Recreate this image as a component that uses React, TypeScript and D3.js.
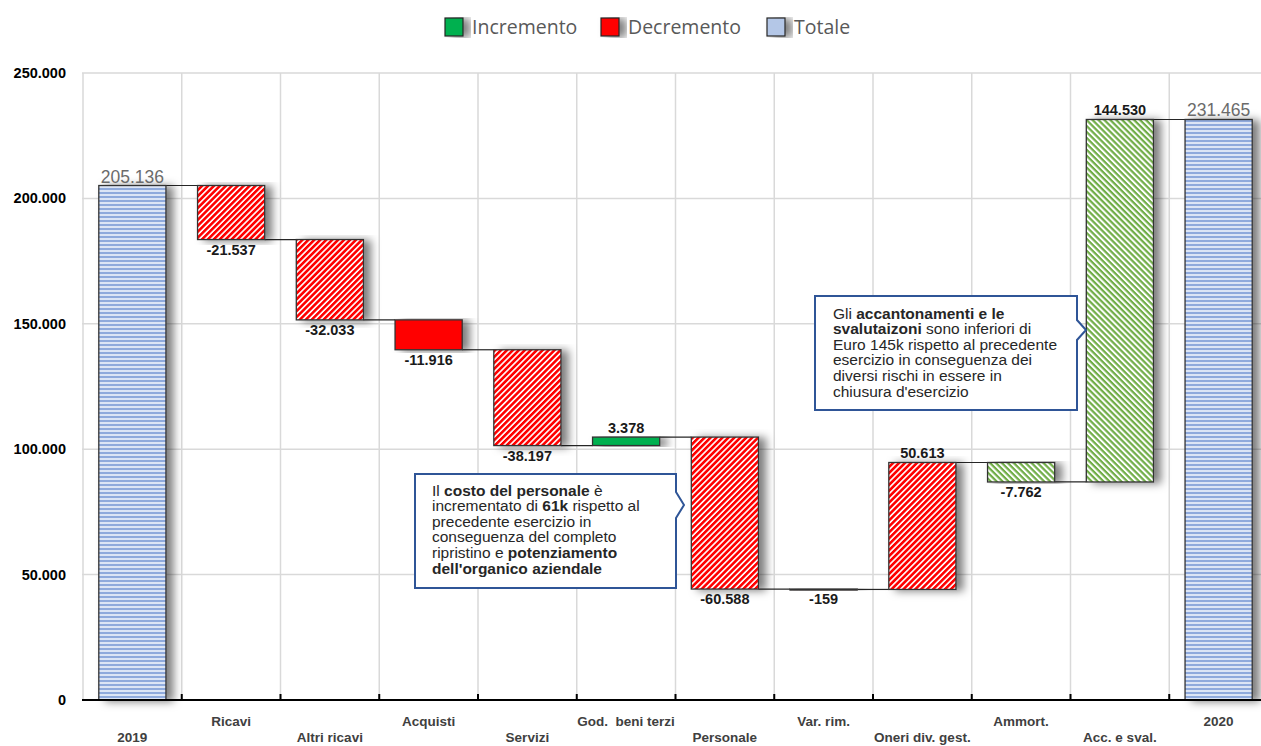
import React from "react";
import * as d3 from "d3";

const categories = [
  "2019", "Ricavi", "Altri ricavi", "Acquisti", "Servizi", "God.  beni terzi",
  "Personale", "Var. rim.", "Oneri div. gest.", "Ammort.", "Acc. e sval.", "2020",
];
// totals for 2019/2020, deltas otherwise
const values = [205136, -21537, -32033, -11916, -38197, 3378, -60588, -159, 50613, -7762, 144530, 231465];
const isTotal = [true, false, false, false, false, false, false, false, false, false, false, true];
const barKind = ["total", "decH", "decH", "dec", "decH", "inc", "decH", "decH", "decH", "incH", "incH", "total"];
const yTicks = [0, 50000, 100000, 150000, 200000, 250000];
const legendItems = ["Incremento", "Decremento", "Totale"];

const W = 1261, H = 746;
const locale = d3.formatLocale({ decimal: ",", thousands: ".", grouping: [3], currency: ["€", ""], minus: "-" });
const fmt = (v: number) => locale.format(",d")(v).replace("\u2212", "-");

const fills: Record<string, string> = {
  total: "url(#pTot)", decH: "url(#pRed)", dec: "#ff0000", inc: "#00b050", incH: "url(#pGreen)",
};

export default function App() {
  const x = d3.scaleBand<string>().domain(categories).range([83, 1268]).padding(0);
  const y = d3.scaleLinear().domain([0, 250000]).range([700, 73]);
  const bw = x.bandwidth();
  const barW = bw * 0.68;
  const inset = (bw - barW) / 2;

  let running = 0;
  const bars = categories.map((c, i) => {
    let start: number, end: number;
    if (isTotal[i]) {
      start = 0; end = values[i]; running = values[i];
    } else {
      start = running; end = running + values[i]; running = end;
    }
    const lo = Math.min(start, end), hi = Math.max(start, end);
    return { c, i, start, end, lo, hi, x0: (x(c) as number) + inset };
  });

  const font = "'Liberation Sans', Arial, sans-serif";

  return (
    <svg width={W} height={H} style={{ display: "block", position: "absolute", left: 0, top: 0, background: "#fff" }}>
      <defs>
        <pattern id="pTot" width="6" height="4" patternUnits="userSpaceOnUse">
          <rect width="6" height="4" fill="#dce5f5" />
          <rect y="0" width="6" height="2" fill="#8faadc" />
        </pattern>
        <pattern id="pRed" width="4.2" height="4.2" patternUnits="userSpaceOnUse" patternTransform="rotate(-45)">
          <rect width="4.2" height="4.2" fill="#fff" />
          <rect width="4.2" height="2.6" fill="#ff0000" />
        </pattern>
        <pattern id="pGreen" width="4.2" height="4.2" patternUnits="userSpaceOnUse" patternTransform="rotate(45)">
          <rect width="4.2" height="4.2" fill="#fff" />
          <rect width="4.2" height="2.2" fill="#70ad47" />
        </pattern>
        <filter id="shadow" x="-20%" y="-5%" width="160%" height="115%">
          <feDropShadow dx="7" dy="1" stdDeviation="4" floodColor="#000" floodOpacity="0.5" />
        </filter>
      </defs>

      {/* legend */}
      {legendItems.map((t, k) => {
        const lx = [445, 601, 767][k];
        const col = ["#00b050", "#ff0000", "#b4c7e7"][k];
        return (
          <g key={t}>
            <rect x={lx} y={18} width={18} height={18} fill={col} stroke="#262626" strokeWidth={1.2} filter="url(#shadow)" />
            <text x={lx + 27} y={33.5} fontFamily="'Open Sans', sans-serif" fontSize={19.5} fill="#595959">{t}</text>
          </g>
        );
      })}

      {/* gridlines */}
      {yTicks.map((t) => (
        <line key={"h" + t} x1={82} x2={1261} y1={y(t)} y2={y(t)} stroke="#d9d9d9" strokeWidth={1.5} />
      ))}
      {categories.map((c) => (
        <line key={"v" + c} x1={x(c)} x2={x(c)} y1={73} y2={700} stroke="#d9d9d9" strokeWidth={1.5} />
      ))}

      {/* y labels */}
      {yTicks.map((t) => (
        <text key={"yl" + t} x={66} y={y(t) + 5} textAnchor="end" fontFamily={font} fontWeight="bold" fontSize={14.5} fill="#000">
          {fmt(t)}
        </text>
      ))}

      {/* connectors */}
      {bars.slice(0, -1).map((b, i) => (
        <line key={"cn" + i} x1={b.x0 + barW} x2={bars[i + 1].x0} y1={y(b.end)} y2={y(b.end)} stroke="#262626" strokeWidth={1.2} />
      ))}

      {/* bars */}
      {bars.map((b) => (
        <rect key={"b" + b.c} x={b.x0} y={y(b.hi)} width={barW} height={Math.max(1, y(b.lo) - y(b.hi))}
          fill={fills[barKind[b.i]]} stroke="#333" strokeWidth={1.3} filter="url(#shadow)" />
      ))}

      {/* axis */}
      <line x1={82} x2={1261} y1={700} y2={700} stroke="#000" strokeWidth={2} />
      {categories.slice(1).map((c) => (
        <line key={"t" + c} x1={x(c)} x2={x(c)} y1={700} y2={694} stroke="#000" strokeWidth={2} />
      ))}

      {/* value labels */}
      {bars.map((b) => {
        const cx = b.x0 + barW / 2;
        if (isTotal[b.i]) {
          return (
            <text key={"vl" + b.c} x={cx} y={y(b.hi) - 3} textAnchor="middle" fontFamily={font} fontSize={17.5} fill="#6b6b6b">
              {fmt(values[b.i])}
            </text>
          );
        }
        const neg = values[b.i] < 0;
        return (
          <text key={"vl" + b.c} x={cx} y={neg ? y(b.lo) + 15 : y(b.hi) - 4} textAnchor="middle" fontFamily={font}
            fontWeight="bold" fontSize={14.5} fill="#1a1a1a">
            {fmt(values[b.i])}
          </text>
        );
      })}

      {/* category labels */}
      {categories.map((c, i) => (
        <text key={"xl" + c} x={(x(c) as number) + bw / 2} y={i % 2 === 0 ? 741.5 : 726} textAnchor="middle"
          fontFamily={font} fontWeight="bold" fontSize={13.5} fill="#404040" style={{ whiteSpace: "pre" }}>
          {c}
        </text>
      ))}

      {/* callout 1 */}
      <path d="M415,474 H676 V492 L684,505 L676,518 V588 H415 Z" fill="#fff" stroke="#2f5597" strokeWidth={2} />
      <g fontFamily={font} fontSize={15.5} fill="#262626">
        <text x={432} y={495.5}>Il <tspan fontWeight="bold">costo del personale</tspan> è</text>
        <text x={432} y={511.1}>incrementato di <tspan fontWeight="bold">61k</tspan> rispetto al</text>
        <text x={432} y={526.7}>precedente esercizio in</text>
        <text x={432} y={542.3}>conseguenza del completo</text>
        <text x={432} y={557.9}>ripristino e <tspan fontWeight="bold">potenziamento</tspan></text>
        <text x={432} y={573.5} fontWeight="bold">dell'organico aziendale</text>
      </g>

      {/* callout 2 */}
      <path d="M815,296 H1077 V320 L1086,330 L1077,340 V410 H815 Z" fill="#fff" stroke="#2f5597" strokeWidth={2} />
      <g fontFamily={font} fontSize={15.5} fill="#262626">
        <text x={833} y={318.5}>Gli <tspan fontWeight="bold">accantonamenti e le</tspan></text>
        <text x={833} y={334.1}><tspan fontWeight="bold">svalutaizoni</tspan> sono inferiori di</text>
        <text x={833} y={349.7}>Euro 145k rispetto al precedente</text>
        <text x={833} y={365.3}>esercizio in conseguenza dei</text>
        <text x={833} y={380.9}>diversi rischi in essere in</text>
        <text x={833} y={396.5}>chiusura d'esercizio</text>
      </g>
    </svg>
  );
}
